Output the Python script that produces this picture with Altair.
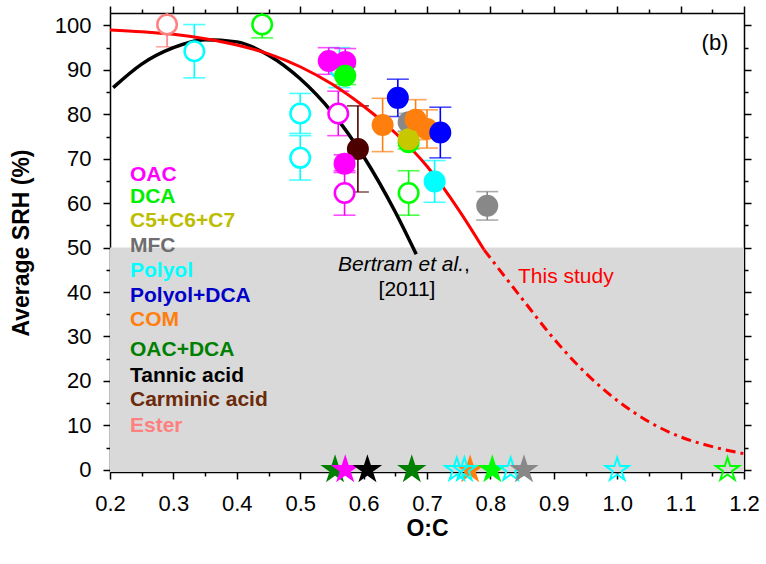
import altair as alt
import pandas as pd

# ---------------- data ----------------
groups = ["OAC", "DCA", "C5+C6+C7", "MFC", "Polyol", "Polyol+DCA", "COM",
          "OAC+DCA", "Tannic acid", "Carminic acid", "Ester"]
group_colors = ["#ff00ff", "#00ff00", "#c8c800", "#888888", "#00ffff", "#0000ff",
                "#ff7f0e", "#008000", "#000000", "#4d0000", "#ff8080"]
legend_colors = ["#ff00ff", "#00ee00", "#bdbd00", "#6e6e6e", "#00ffff", "#0000c8",
                 "#ff7f0e", "#008000", "#000000", "#6b2a0a", "#ff8080"]

# circles: group, O:C, average SRH, error, open marker?
pt_group = ["Ester", "Polyol", "DCA", "Polyol", "Polyol", "Polyol", "OAC", "OAC",
            "DCA", "OAC", "Carminic acid", "OAC", "OAC", "COM", "Polyol+DCA", "MFC",
            "DCA", "C5+C6+C7", "COM", "COM", "Polyol+DCA", "DCA", "Polyol", "MFC"]
pt_x = [0.29, 0.333, 0.44, 0.50, 0.50, 0.562, 0.545, 0.571,
        0.571, 0.56, 0.591, 0.570, 0.570, 0.630, 0.654, 0.671,
        0.671, 0.671, 0.682, 0.700, 0.721, 0.671, 0.712, 0.795]
pt_y = [100.2, 94.2, 100.2, 80.2, 70.2, 90.5, 92.0, 91.8,
        88.7, 80.2, 72.2, 68.9, 62.3, 77.6, 83.7, 78.2,
        73.7, 74.4, 78.8, 76.7, 75.9, 62.3, 64.9, 59.4]
pt_err = [5.0, 6.0, 3.0, 4.5, 5.0, 4.5, 3.0, 3.0,
          2.0, 5.0, 9.7, 2.0, 5.0, 6.0, 4.2, 2.0,
          1.5, 1.5, 4.5, 4.3, 5.7, 5.0, 4.7, 3.2]
pt_open = [True, True, True, True, True, True, False, False,
           False, True, False, False, True, False, False, False,
           False, False, False, False, False, True, False, False]

# stars at SRH = 0 (no efflorescence observed)
star_group = ["OAC+DCA", "OAC", "Tannic acid", "OAC+DCA", "COM", "Polyol", "Polyol",
              "DCA", "Polyol", "MFC", "Polyol", "DCA"]
star_x = [0.555, 0.571, 0.606, 0.676, 0.768, 0.747, 0.759,
          0.803, 0.832, 0.853, 1.000, 1.174]
star_y = [0, 0, 0, 0, 0, 0, 0, 0, 0, 0, 0, 0]
star_open = [False, False, False, False, False, True, True,
             False, True, False, True, True]

# "This study" curve (solid above 50 %, dash-dot below)
red_solid_x = [0.20, 0.25, 0.30, 0.35, 0.40, 0.45, 0.50, 0.55, 0.60, 0.65, 0.70, 0.75, 0.79]
red_solid_y = [99.0, 98.6, 98.0, 97.0, 95.6, 93.6, 90.7, 86.8, 81.8, 75.8, 68.3, 58.5, 49.5]
red_dash_x = [0.79, 0.85, 0.90, 0.95, 1.00, 1.05, 1.10, 1.15, 1.20]
red_dash_y = [49.5, 38.5, 29.5, 21.8, 15.6, 10.8, 7.4, 5.2, 3.6]

# Bertram et al. [2011]
bertram_x = [0.205, 0.25, 0.30, 0.35, 0.40, 0.45, 0.50, 0.55, 0.60, 0.65, 0.683]
bertram_y = [86.0, 91.3, 95.0, 96.8, 96.3, 93.3, 88.0, 80.5, 70.5, 58.0, 48.5]

srh_threshold = [50]

x_ticks = [0.2, 0.25, 0.3, 0.35, 0.4, 0.45, 0.5, 0.55, 0.6, 0.65, 0.7, 0.75,
           0.8, 0.85, 0.9, 0.95, 1.0, 1.05, 1.1, 1.15, 1.2]
y_ticks = [0, 5, 10, 15, 20, 25, 30, 35, 40, 45, 50, 55, 60, 65, 70, 75, 80, 85,
           90, 95, 100]

# ---------------- frames ----------------
pts = pd.DataFrame({"group": pt_group, "x": pt_x, "y": pt_y, "err": pt_err, "open": pt_open})
pts["lo"] = pts["y"] - pts["err"]
pts["hi"] = pts["y"] + pts["err"]
stars = pd.DataFrame({"group": star_group, "x": star_x, "y": star_y, "open": star_open})
red_solid = pd.DataFrame({"x": red_solid_x, "y": red_solid_y})
red_dash = pd.DataFrame({"x": red_dash_x, "y": red_dash_y})
bertram = pd.DataFrame({"x": bertram_x, "y": bertram_y})
shade = pd.DataFrame({"thr": srh_threshold})

W, H = 634, 459
FONT = "Liberation Sans"
STAR = ("M0,-1L0.2245,-0.309L0.9511,-0.309L0.3633,0.118L0.5878,0.809L0,0.382"
        "L-0.5878,0.809L-0.3633,0.118L-0.9511,-0.309L-0.2245,-0.309Z")

xs = alt.Scale(domain=[0.2, 1.2], nice=False, zero=False)
ys = alt.Scale(domain=[-0.5, 102.8], nice=False, zero=False)
cs = alt.Scale(domain=groups, range=group_colors)

x_major = "abs(datum.value*10 - round(datum.value*10)) < 0.001"
y_major = "datum.value % 10 == 0"

ax_bottom = alt.Axis(orient="bottom", values=x_ticks, title="O:C",
                     labelExpr=f"{x_major} ? format(datum.value, '.1f') : ''",
                     tickSize={"condition": {"test": x_major, "value": 7}, "value": 4},
                     labelFlush=False, labelOverlap=False, grid=False,
                     labelPadding=14, titlePadding=3)
ax_left = alt.Axis(orient="left", values=y_ticks, title="Average SRH (%)",
                   labelExpr=f"{y_major} ? datum.label : ''",
                   tickSize={"condition": {"test": y_major, "value": 7}, "value": 4},
                   labelOverlap=False, grid=False, labelPadding=12, titlePadding=21)
ax_top = alt.Axis(orient="top", values=x_ticks, title=None, labels=False,
                  tickSize={"condition": {"test": x_major, "value": 7}, "value": 4},
                  grid=False)
ax_right = alt.Axis(orient="right", values=y_ticks, title=None, labels=False,
                    tickSize={"condition": {"test": y_major, "value": 7}, "value": 4},
                    grid=False)

shade_layer = alt.Chart(shade).mark_rect(color="#d9d9d9").encode(
    x=alt.value(0), x2=alt.value(W),
    y=alt.Y("thr:Q", scale=ys, axis=None), y2=alt.value(H))

err_rule = alt.Chart(pts).mark_rule(strokeWidth=1.6, clip=True).encode(
    x=alt.X("x:Q", scale=xs, axis=None),
    y=alt.Y("lo:Q", scale=ys, axis=None), y2="hi:Q",
    color=alt.Color("group:N", scale=cs, legend=None))
cap_lo = alt.Chart(pts).mark_tick(orient="horizontal", size=22, thickness=1.6, clip=True).encode(
    x=alt.X("x:Q", scale=xs, axis=None),
    y=alt.Y("lo:Q", scale=ys, axis=None),
    color=alt.Color("group:N", scale=cs, legend=None))
cap_hi = alt.Chart(pts).mark_tick(orient="horizontal", size=22, thickness=1.6, clip=True).encode(
    x=alt.X("x:Q", scale=xs, axis=None),
    y=alt.Y("hi:Q", scale=ys, axis=None),
    color=alt.Color("group:N", scale=cs, legend=None))

bertram_line = alt.Chart(bertram).mark_line(color="black", strokeWidth=3.5,
                                            interpolate="monotone").encode(
    x=alt.X("x:Q", scale=xs, axis=None), y=alt.Y("y:Q", scale=ys, axis=None))
red_line = alt.Chart(red_solid).mark_line(color="#ff0000", strokeWidth=3,
                                          interpolate="monotone").encode(
    x=alt.X("x:Q", scale=xs, axis=None), y=alt.Y("y:Q", scale=ys, axis=None))
red_dash_line = alt.Chart(red_dash).mark_line(color="#ff0000", strokeWidth=3,
                                              strokeDash=[10, 5, 3, 5],
                                              interpolate="monotone").encode(
    x=alt.X("x:Q", scale=xs, axis=None), y=alt.Y("y:Q", scale=ys, axis=None))

circles = alt.Chart(pts).mark_point(shape="circle", size=380, filled=True,
                                    strokeWidth=2.5, opacity=1, clip=True).encode(
    x=alt.X("x:Q", scale=xs, axis=ax_bottom),
    y=alt.Y("y:Q", scale=ys, axis=ax_left),
    fill=alt.condition("datum.open", alt.value("white"),
                       alt.Color("group:N", scale=cs, legend=None)),
    stroke=alt.Color("group:N", scale=cs, legend=None))

star_layer = alt.Chart(stars).mark_point(shape=STAR, size=600, filled=True,
                                         strokeWidth=2, opacity=1).encode(
    x=alt.X("x:Q", scale=xs, axis=ax_top),
    y=alt.Y("y:Q", scale=ys, axis=ax_right),
    fill=alt.condition("datum.open", alt.value("transparent"),
                       alt.Color("group:N", scale=cs, legend=None)),
    stroke=alt.Color("group:N", scale=cs, legend=None))

# legend-like coloured labels (one text layer each)
legend_y = [162, 184, 208, 233, 258, 283, 307, 337, 363, 387, 413]
legend_layers = []
for lab, col, py in zip(groups, legend_colors, legend_y):
    legend_layers.append(
        alt.Chart(shade).mark_text(align="left", baseline="middle", font=FONT,
                                   fontSize=21, fontWeight="bold", color=col)
        .encode(x=alt.value(20), y=alt.value(py), text=alt.value(lab)))


def label(txt, px, py, **kw):
    return alt.Chart(shade).mark_text(font=FONT, baseline="alphabetic", **kw).encode(
        x=alt.value(px), y=alt.value(py), text=alt.value(txt))


bertram_txt = label("Bertram et al.", 228, 258, align="left", fontSize=21, fontStyle="italic")
comma_txt = label(",", 354, 258, align="left", fontSize=21)
year_txt = label("[2011]", 297, 283, align="center", fontSize=21)
study_txt = label("This study", 408, 270, align="left", fontSize=21, color="#ff0000")
b_txt = label("(b)", 605, 37, align="center", fontSize=22)

chart = alt.layer(
    shade_layer, err_rule, cap_lo, cap_hi, bertram_line, red_line, red_dash_line,
    circles, star_layer, *legend_layers, bertram_txt, comma_txt, year_txt, study_txt, b_txt
).resolve_axis(x="independent", y="independent").properties(
    width=W, height=H,
    autosize=alt.AutoSizeParams(type="none"),
    padding={"left": 110, "top": 13, "right": 22, "bottom": 92},
).configure_view(stroke=None).configure_axis(
    domainColor="black", domainWidth=1.5, tickColor="black", tickWidth=1.5,
    labelFont=FONT, labelFontSize=22, labelColor="black",
    titleFont=FONT, titleFontSize=23, titleFontWeight="bold", titleColor="black"
)

chart.save("out.html", embed_options={"renderer": "svg", "actions": False})
